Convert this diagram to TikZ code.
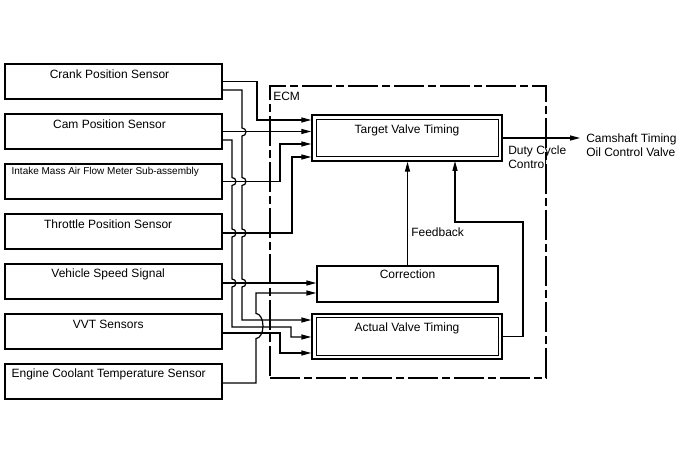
\documentclass[tikz,border=0pt]{standalone}
\usepackage{fontspec}
\setmainfont{Liberation Sans}
\usetikzlibrary{arrows.meta}
\begin{document}
\begin{tikzpicture}[x=0.75pt,y=-0.75pt,
  font=\fontsize{9}{10.5}\selectfont,
  sensor/.style={draw, line width=1.1pt, minimum width=162.75pt, minimum height=26.25pt, inner sep=0pt},
  blk/.style={draw, line width=1.1pt, minimum width=142.5pt, inner sep=0pt},
  conn/.style={line width=0.9pt},
  arr/.style={line width=0.9pt, -{Triangle[length=7.5pt,width=3.8pt]}},
  ecmbox/.style={draw, line width=0.9pt, dash pattern=on 22.5pt off 3pt on 6pt off 3pt, minimum width=207pt, minimum height=219pt, inner sep=0pt}]
\useasboundingbox (0,0) rectangle (688,463);

% ECM boundary
\node[ecmbox] (ecm) at (408,232) {};
\node[anchor=west, inner sep=0pt] (ecmlbl) at (273,96) {ECM};

% sensors
\node[sensor, label={[anchor=center, yshift=-8pt, xshift=-3pt]north:Crank Position Sensor}] (crank) at (113.5,81.5) {};
\node[sensor, label={[anchor=center, yshift=-8pt, xshift=-3pt]north:Cam Position Sensor}] (cam) at (113.5,131.5) {};
\node[sensor, label={[anchor=west, yshift=-6.5pt, xshift=2pt, font=\fontsize{7.5}{9}\selectfont]north west:Intake Mass Air Flow Meter Sub-assembly}] (intake) at (113.5,181.5) {};
\node[sensor, label={[anchor=center, yshift=-8pt, xshift=-4pt]north:Throttle Position Sensor}] (throttle) at (113.5,231.5) {};
\node[sensor, label={[anchor=center, yshift=-8pt, xshift=-4pt]north:Vehicle Speed Signal}] (speed) at (113.5,281.5) {};
\node[sensor, label={[anchor=center, yshift=-8pt, xshift=-4pt]north:VVT Sensors}] (vvt) at (113.5,331.5) {};
\node[sensor, label={[anchor=west, yshift=-8pt, xshift=2pt]north west:Engine Coolant Temperature Sensor}] (engine) at (113.5,381.5) {};

% ECM blocks
\node[blk, minimum height=34.5pt, label={[anchor=center, yshift=-12pt]north:Target Valve Timing}] (tvt) at (407,138) {};
\draw[line width=1.1pt] ([shift={(5,5)}]tvt.north west) rectangle ([shift={(-4,-5)}]tvt.south east);
\node[blk, minimum width=135.75pt, minimum height=27pt, label={[anchor=center, yshift=-6.75pt]north:Correction}] (corr) at (407.5,284) {};
\node[blk, minimum height=33.75pt, label={[anchor=center, yshift=-11.5pt]north:Actual Valve Timing}] (avt) at (407,336.5) {};
\draw[line width=1.1pt] ([shift={(5,4)}]avt.north west) rectangle ([shift={(-4,-4)}]avt.south east);

% inputs to Target Valve Timing
\draw[arr] (crank.east) -- (257,81.5) -- (257,120) -- (tvt.west |- 0,120);
\draw[arr] (cam.east) -- (tvt.west |- cam.east);
\draw[arr] (intake.east) -- (280,181.5) -- (280,144) -- (tvt.west |- 0,144);
\draw[arr] (throttle.east |- 0,233) -- (292,233) -- (292,157) -- (tvt.west |- 0,157);

% inputs to Correction
\draw[arr] (speed.east |- 0,283) -- (corr.west |- 0,283);
\draw[arr] (engine.east |- 0,383) -- (256,383) -- (256,338.5)
  arc[start angle=90, end angle=-90, x radius=7, y radius=12.5] -- (256,293) -- (corr.west |- 0,293);

% inputs to Actual Valve Timing
\draw[arr] (crank.east |- 0,90) -- (242,90) -- (242,128)
  arc[start angle=-90, end angle=90, radius=4] -- (242,177.5)
  arc[start angle=-90, end angle=90, radius=4] -- (242,229)
  arc[start angle=-90, end angle=90, radius=4] -- (242,279)
  arc[start angle=-90, end angle=90, radius=4] -- (242,320) -- (avt.west |- 0,320);
\draw[arr] (cam.east |- 0,140) -- (232,140) -- (232,177.5)
  arc[start angle=-90, end angle=90, radius=4] -- (232,229)
  arc[start angle=-90, end angle=90, radius=4] -- (232,279)
  arc[start angle=-90, end angle=90, radius=4] -- (232,327) -- (291,327) -- (291,337) -- (avt.west |- 0,337);
\draw[arr] (vvt.east |- 0,333) -- (280,333) -- (280,353) -- (avt.west |- 0,353);

% feedback paths
\draw[arr] (corr.north) -- (corr.north |- tvt.south);
\node[anchor=west, inner sep=0pt] (fb) at (411,232) {Feedback};
\draw[arr] (avt.east) -- (523,336.5) -- (523,222) -- (455,222) -- (455,161);

% output
\coordinate (out) at (580,138);
\draw[arr] (tvt.east) -- (out);
\node[anchor=west, inner sep=0pt, align=left] (valve) at (586,145.5) {Camshaft Timing\\Oil Control Valve};
\node[anchor=west, inner sep=0pt, align=left] (duty) at (508,157.5) {Duty Cycle\\Control};
\end{tikzpicture}
\end{document}
